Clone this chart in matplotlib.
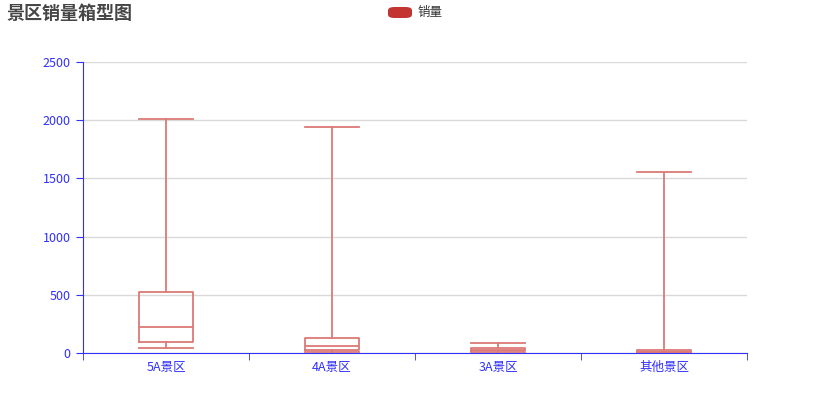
import matplotlib.pyplot as plt
from matplotlib.patches import FancyBboxPatch

plt.rcParams['font.family'] = ['Noto Sans CJK SC', 'DejaVu Sans']

categories = ["5A景区", "4A景区", "3A景区", "其他景区"]
whislo = [43, 5, 2, 1]
q1 = [97, 30, 15, 5]
med = [223, 60, 30, 12]
q3 = [520, 126, 46, 26]
whishi = [2010, 1942, 86, 1557]

box_color = "#dc7a76"
axis_blue = "#3030ff"

fig = plt.figure(figsize=(8.31, 4.16), dpi=100)
ax = fig.add_axes([83 / 831, 63 / 416, 664 / 831, 291 / 416])

stats = [
    {"label": c, "whislo": lo, "q1": a, "med": m, "q3": b, "whishi": hi}
    for c, lo, a, m, b, hi in zip(categories, whislo, q1, med, q3, whishi)
]
positions = list(range(len(categories)))
line_kw = dict(color=box_color, linewidth=1.3)
ax.bxp(
    stats,
    positions=positions,
    widths=0.32,
    showfliers=False,
    boxprops=line_kw,
    medianprops=line_kw,
    whiskerprops=line_kw,
    capprops=line_kw,
    capwidths=0.32,
)

ax.set_xlim(-0.5, len(categories) - 0.5)
ax.set_ylim(0, 2500)
ax.set_yticks([0, 500, 1000, 1500, 2000, 2500])
ax.set_xticks(positions)
ax.set_xticklabels(categories)
ax.set_xticks([p - 0.5 for p in range(len(categories) + 1)], minor=True)
ax.tick_params(axis="x", which="major", length=0, pad=6, labelsize=9, labelcolor=axis_blue)
ax.tick_params(axis="x", which="minor", length=5, color=axis_blue, direction="out")
ax.tick_params(axis="y", length=5, color=axis_blue, labelsize=9, labelcolor=axis_blue, pad=4)

ax.grid(axis="y", color="#d9d9d9", linewidth=1)
ax.set_axisbelow(True)
for side in ["top", "right"]:
    ax.spines[side].set_visible(False)
ax.spines["left"].set_color(axis_blue)
ax.spines["bottom"].set_color(axis_blue)

fig.text(6 / 831, 1 - 13 / 416, "景区销量箱型图", fontsize=13, fontweight="bold",
         color="#464646", va="center", ha="left")
legend_box = FancyBboxPatch((388 / 831, 1 - 18 / 416), 24 / 831, 11 / 416,
                            boxstyle="round,pad=0,rounding_size=0.008",
                            transform=fig.transFigure, facecolor="#c23531",
                            edgecolor="none")
fig.patches.append(legend_box)
fig.text(418 / 831, 1 - 12.5 / 416, "销量", fontsize=9, color="#333333",
         va="center", ha="left")

fig.savefig("out.png", dpi=100)
